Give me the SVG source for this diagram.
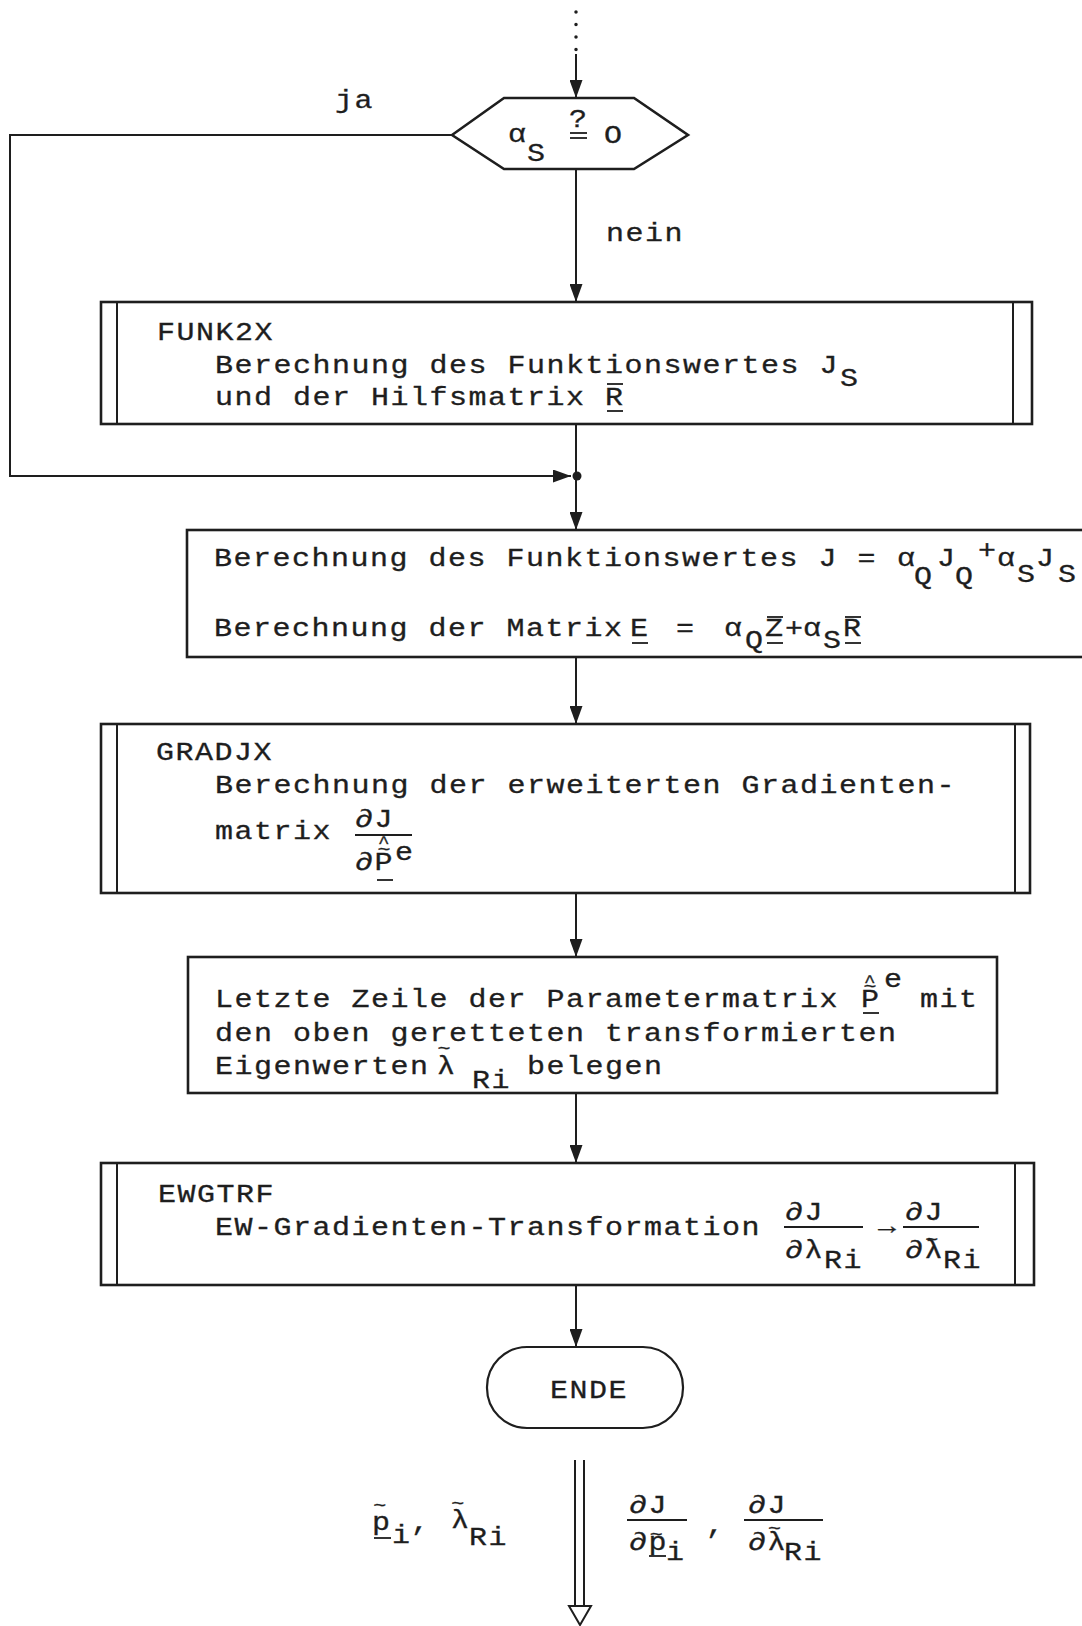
<svg xmlns="http://www.w3.org/2000/svg" width="1082" height="1626" viewBox="0 0 1082 1626">
<style>
.t{font-family:"Liberation Mono","DejaVu Sans Mono",monospace;font-size:25px;letter-spacing:1.25px;fill:#1e1e1e;stroke:#1e1e1e;stroke-width:0.3}
.m{font-size:18px;letter-spacing:0}
.h{font-size:16px;letter-spacing:0}
.ln{stroke:#1e1e1e;stroke-width:2;fill:none}
.bx{fill:#fff;stroke:#1e1e1e;stroke-width:2.6}
.in{stroke:#1e1e1e;stroke-width:2}
.ul{stroke:#1e1e1e;stroke-width:1.8}
</style>
<defs>
<marker id="ah" markerUnits="userSpaceOnUse" markerWidth="18" markerHeight="13" viewBox="0 0 18 13" refX="18" refY="6.5" orient="auto">
<path d="M0,0 L18,6.5 L0,13 z" fill="#1e1e1e"/>
</marker>
</defs>
<rect width="1082" height="1626" fill="#fff"/>

<g id="connectors">
<line x1="576" y1="12" x2="576" y2="50" stroke="#1e1e1e" stroke-width="3.5" stroke-linecap="round" stroke-dasharray="0,12.5"/>
<path class="ln" d="M576,54 V98" marker-end="url(#ah)"/>
<path class="ln" d="M576,169 V302" marker-end="url(#ah)"/>
<path class="ln" d="M576,424 V530" marker-end="url(#ah)"/>
<path class="ln" d="M576,657 V724" marker-end="url(#ah)"/>
<path class="ln" d="M576,893 V957" marker-end="url(#ah)"/>
<path class="ln" d="M576,1093 V1163" marker-end="url(#ah)"/>
<path class="ln" d="M576,1285 V1347" marker-end="url(#ah)"/>
<path class="ln" d="M452,135 H10 V476 H571" stroke-width="2.6" marker-end="url(#ah)"/>
<circle cx="577" cy="476" r="4.5" fill="#1e1e1e"/>
<line class="in" x1="575" y1="1460" x2="575" y2="1607"/>
<line class="in" x1="584" y1="1460" x2="584" y2="1607"/>
<polygon points="569,1606 591,1606 580,1625" fill="#fff" stroke="#1e1e1e" stroke-width="2"/>
<line class="ul" x1="374" y1="1538" x2="391" y2="1538"/>
<line class="ul" x1="627" y1="1520" x2="687" y2="1520"/>
<line class="ul" x1="649" y1="1556" x2="666" y2="1556"/>
<line class="ul" x1="744" y1="1520" x2="823" y2="1520"/>
<g transform="scale(1.2 1)">
<text class="t" x="279.2" y="108">ja</text>
<text class="t" x="505" y="241">nein</text>
<text class="t"><tspan x="310" y="1530">p</tspan><tspan class="m" x="311" y="1511">~</tspan><tspan x="326.7" y="1543">i</tspan><tspan x="342.5" y="1530">,</tspan><tspan x="375.8" y="1528">λ</tspan><tspan class="m" x="376" y="1509">~</tspan><tspan x="390.8" y="1545">Ri</tspan></text>
<text class="t"><tspan x="524.2" y="1513">∂J</tspan><tspan x="524.2" y="1550">∂p</tspan><tspan class="m" x="541.5" y="1540">~</tspan><tspan x="555" y="1560">i</tspan><tspan x="588.3" y="1533">,</tspan><tspan x="623.3" y="1513">∂J</tspan><tspan x="623.3" y="1550">∂λ</tspan><tspan class="m" x="640" y="1534">~</tspan><tspan x="653.3" y="1560">Ri</tspan></text>
</g>
</g>

<g id="decision">
<polygon points="452,135 504,98 634,98 688,135 634,169 504,169" fill="#fff" stroke="#1e1e1e" stroke-width="2.6"/>
<line class="ul" x1="570" y1="133" x2="587" y2="133"/>
<line class="ul" x1="570" y1="138" x2="587" y2="138"/>
<g transform="scale(1.2 1)">
<text class="t"><tspan x="423.3" y="142">α</tspan><tspan x="439.2" y="161">S</tspan><tspan x="474.2" y="127">?</tspan><tspan x="503.3" y="143">O</tspan></text>
</g>
</g>

<g id="funk2x">
<rect class="bx" x="101" y="302" width="931" height="122"/>
<line class="in" x1="117" y1="302" x2="117" y2="424"/>
<line class="in" x1="1013" y1="302" x2="1013" y2="424"/>
<line class="ul" x1="607" y1="384" x2="623" y2="384"/>
<line class="ul" x1="607" y1="411" x2="623" y2="411"/>
<g transform="scale(1.2 1)">
<text class="t" x="130.8" y="340">FUNK2X</text>
<text class="t"><tspan x="179.2" y="373">Berechnung des Funktionswertes J</tspan><tspan x="700" y="386">S</tspan></text>
<text class="t" x="179.2" y="405">und der Hilfsmatrix R</text>
</g>
</g>

<g id="funktionswert">
<rect class="bx" x="187" y="530" width="905" height="127"/>
<line class="ul" x1="632" y1="643" x2="648" y2="643"/>
<line class="ul" x1="767" y1="617" x2="783" y2="617"/>
<line class="ul" x1="767" y1="643" x2="783" y2="643"/>
<line class="ul" x1="845" y1="617" x2="861" y2="617"/>
<line class="ul" x1="845" y1="643" x2="861" y2="643"/>
<g transform="scale(1.2 1)">
<text class="t"><tspan x="178.3" y="566">Berechnung des Funktionswertes J =</tspan><tspan x="747.5" y="566">α</tspan><tspan x="761.7" y="584">Q</tspan><tspan x="780.8" y="566">J</tspan><tspan x="795.8" y="584">Q</tspan><tspan x="815" y="558">+</tspan><tspan x="830.8" y="566">α</tspan><tspan x="847.5" y="582">S</tspan><tspan x="863.3" y="566">J</tspan><tspan x="881.7" y="582">S</tspan></text>
<text class="t"><tspan x="178.3" y="636">Berechnung der Matrix</tspan><tspan x="525" y="636">E</tspan><tspan x="563.3" y="636">=</tspan><tspan x="603.3" y="636">α</tspan><tspan x="620.8" y="648">Q</tspan><tspan x="637.5" y="636">Z</tspan><tspan x="654.2" y="636">+</tspan><tspan x="669.2" y="636">α</tspan><tspan x="685.8" y="648">S</tspan><tspan x="702.5" y="636">R</tspan></text>
</g>
</g>

<g id="gradjx">
<rect class="bx" x="101" y="724" width="929" height="169"/>
<line class="in" x1="117" y1="724" x2="117" y2="893"/>
<line class="in" x1="1015" y1="724" x2="1015" y2="893"/>
<line class="ul" x1="355" y1="835" x2="412" y2="835"/>
<line class="ul" x1="377" y1="880" x2="393" y2="880"/>
<g transform="scale(1.2 1)">
<text class="t" x="130" y="760">GRADJX</text>
<text class="t" x="179.2" y="793">Berechnung der erweiterten Gradienten-</text>
<text class="t" x="179.2" y="839">matrix</text>
<text class="t"><tspan x="295.8" y="827">∂J</tspan><tspan x="295.8" y="870">∂P</tspan><tspan class="h" x="315" y="848">^</tspan><tspan class="m" x="314.5" y="855">~</tspan><tspan x="329.2" y="860">e</tspan></text>
</g>
</g>

<g id="letzte-zeile">
<rect class="bx" x="188" y="957" width="809" height="136"/>
<line class="ul" x1="863" y1="1013" x2="879" y2="1013"/>
<g transform="scale(1.2 1)">
<text class="t"><tspan x="179.2" y="1007">Letzte Zeile der Parametermatrix</tspan><tspan x="717.5" y="1007">P</tspan><tspan class="h" x="720" y="987">^</tspan><tspan class="m" x="719.5" y="992">~</tspan><tspan x="736.7" y="987">e</tspan><tspan x="766.7" y="1007">mit</tspan></text>
<text class="t" x="179.2" y="1041">den oben geretteten transformierten</text>
<text class="t"><tspan x="179.2" y="1074">Eigenwerten</tspan><tspan x="364.2" y="1074">λ</tspan><tspan class="m" x="364.5" y="1054">~</tspan><tspan x="393.3" y="1088">Ri</tspan><tspan x="439.2" y="1074">belegen</tspan></text>
</g>
</g>

<g id="ewgtrf">
<rect class="bx" x="101" y="1163" width="933" height="122"/>
<line class="in" x1="117" y1="1163" x2="117" y2="1285"/>
<line class="in" x1="1015" y1="1163" x2="1015" y2="1285"/>
<line class="ul" x1="784" y1="1227" x2="863" y2="1227"/>
<line class="ul" x1="903" y1="1227" x2="979" y2="1227"/>
<g transform="scale(1.2 1)">
<text class="t" x="131.7" y="1202">EWGTRF</text>
<text class="t" x="179.2" y="1235">EW-Gradienten-Transformation</text>
<text class="t"><tspan x="654.2" y="1220">∂J</tspan><tspan x="654.2" y="1258">∂λ</tspan><tspan x="686.7" y="1268">Ri</tspan><tspan x="731.7" y="1234">→</tspan><tspan x="754.2" y="1220">∂J</tspan><tspan x="754.2" y="1258">∂λ</tspan><tspan class="m" x="771" y="1245">~</tspan><tspan x="785.8" y="1268">Ri</tspan></text>
</g>
</g>

<g id="ende">
<rect x="487" y="1347" width="196" height="81" rx="40" ry="40" fill="#fff" stroke="#1e1e1e" stroke-width="2.2"/>
<g transform="scale(1.2 1)">
<text class="t" x="458.3" y="1398">ENDE</text>
</g>
</g>
</svg>
